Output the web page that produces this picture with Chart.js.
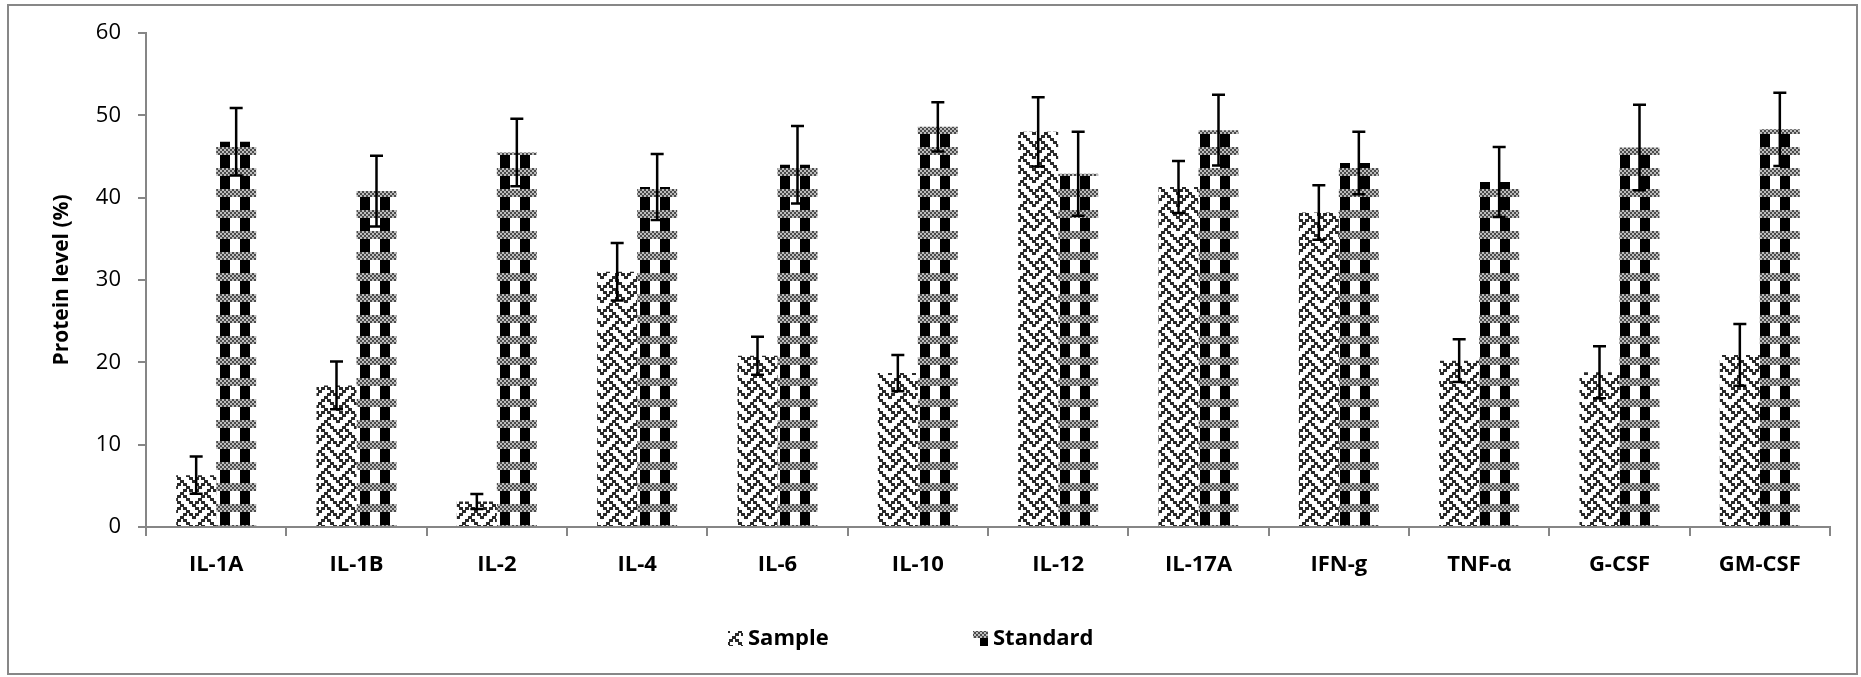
<!DOCTYPE html>
<html>
<head>
<meta charset="utf-8">
<script src="https://cdn.jsdelivr.net/npm/chart.js@4.4.1/dist/chart.umd.min.js"></script>
<style>
  html, body { margin: 0; padding: 0; background: #fff; }
  canvas { display: block; }
</style>
</head>
<body>
<canvas id="proteinChart" width="1861" height="677"></canvas>
<script>
// cytokine panel, protein level (%) with error bars
const cytokines = ['IL-1A', 'IL-1B', 'IL-2', 'IL-4', 'IL-6', 'IL-10', 'IL-12', 'IL-17A', 'IFN-g', 'TNF-\u03b1', 'G-CSF', 'GM-CSF'];
const sampleLevels   = [6.3, 17.2, 3.1, 31.0, 20.8, 18.7, 48.0, 41.3, 38.2, 20.2, 18.8, 20.9];
const sampleErrors   = [2.25, 2.9, 0.9, 3.5, 2.3, 2.2, 4.2, 3.15, 3.3, 2.6, 3.15, 3.75];
const standardLevels = [46.8, 40.8, 45.5, 41.3, 44.0, 48.6, 42.9, 48.2, 44.2, 41.9, 46.1, 48.3];
const standardErrors = [4.1, 4.3, 4.1, 4.0, 4.7, 3.0, 5.1, 4.3, 3.8, 4.25, 5.2, 4.45];
const seriesNames = ['Sample', 'Standard'];
const yTicks = { min: 0, max: 60, step: 10 };

const FONT = '"Open Sans", "Noto Sans", sans-serif';
const AXIS_GREY = '#868686';

// --- fill patterns -------------------------------------------------------
function weavePattern(ctx) {
  const bits = ['X...X...', '.X.X.X..', '..X...X.', '.X...X.X', 'X...X...', '...X.X..', '..X...X.', '.X.X...X'];
  const px = 3;
  const size = 8 * px;
  const c = document.createElement('canvas');
  c.width = size; c.height = size;
  const g = c.getContext('2d');
  g.fillStyle = '#fff';
  g.fillRect(0, 0, size, size);
  g.fillStyle = '#2a2a2a';
  // each cell one pixel wider than the grid so the diagonals join up
  bits.forEach((row, r) => {
    [...row].forEach((ch, col) => {
      if (ch !== 'X') return;
      g.fillRect(col * px, r * px, px + 1, px);
      if (col === 7) g.fillRect(0, r * px, 1, px);
    });
  });
  return ctx.createPattern(c, 'repeat');
}

function plaidPattern(ctx) {
  const c = document.createElement('canvas');
  c.width = 20; c.height = 21;
  const g = c.getContext('2d');
  g.fillStyle = '#fff';
  g.fillRect(0, 0, 20, 21);
  // black vertical stripes
  g.fillStyle = '#000';
  g.fillRect(0, 0, 10, 21);
  // grey dotted band across the stripes
  g.fillStyle = '#bdbdbd';
  g.fillRect(0, 0, 20, 8);
  g.fillStyle = '#4a4a4a';
  for (let y = 0; y < 8; y += 2) {
    for (let x = (y / 2) % 2 ? 2 : 0; x < 20; x += 4) g.fillRect(x, y, 2, 2);
  }
  return ctx.createPattern(c, 'repeat');
}

// --- plugins ---------------------------------------------------------------
const frame = {
  id: 'frame',
  beforeDraw(chart) {
    const { ctx, width, height } = chart;
    ctx.save();
    ctx.fillStyle = '#fff';
    ctx.fillRect(0, 0, width, height);
    ctx.strokeStyle = '#878787';
    ctx.lineWidth = 2;
    ctx.strokeRect(8, 5, width - 12, height - 8);
    ctx.restore();
  }
};

const errorBars = {
  id: 'errorBars',
  afterDatasetsDraw(chart) {
    const { ctx } = chart;
    const y = chart.scales.y;
    const errs = [sampleErrors, standardErrors];
    ctx.save();
    ctx.strokeStyle = '#000';
    ctx.lineWidth = 2.5;
    chart.data.datasets.forEach((ds, i) => {
      chart.getDatasetMeta(i).data.forEach((bar, j) => {
        const v = ds.data[j], e = errs[i][j];
        const top = y.getPixelForValue(v + e);
        const bot = y.getPixelForValue(v - e);
        ctx.beginPath();
        ctx.moveTo(bar.x, top); ctx.lineTo(bar.x, bot);
        ctx.moveTo(bar.x - 6.5, top); ctx.lineTo(bar.x + 6.5, top);
        ctx.moveTo(bar.x - 6.5, bot); ctx.lineTo(bar.x + 6.5, bot);
        ctx.stroke();
      });
    });
    ctx.restore();
  }
};

// legend row under the axis, items spread wide apart
const wideLegend = {
  id: 'wideLegend',
  afterDraw(chart) {
    const { ctx } = chart;
    const items = [{ x: 728 }, { x: 973 }];
    const yMid = 638;
    ctx.save();
    ctx.font = 'bold 22px ' + FONT;
    ctx.textBaseline = 'middle';
    chart.data.datasets.forEach((ds, i) => {
      const x = items[i].x;
      ctx.fillStyle = ds.backgroundColor;
      ctx.fillRect(x, yMid - 7, 15, 15);
      ctx.fillStyle = '#000';
      ctx.fillText(ds.label, x + 20, yMid + 1);
    });
    ctx.restore();
  }
};

// --- chart ------------------------------------------------------------------
const ctx = document.getElementById('proteinChart').getContext('2d');
const chart = new Chart(ctx, {
  type: 'bar',
  data: {
    labels: cytokines,
    datasets: [
      { label: seriesNames[0], data: sampleLevels, backgroundColor: weavePattern(ctx), borderWidth: 0 },
      { label: seriesNames[1], data: standardLevels, backgroundColor: plaidPattern(ctx), borderWidth: 0 }
    ]
  },
  options: {
    responsive: false,
    animation: false,
    devicePixelRatio: 1,
    layout: { padding: { top: 33, right: 31, bottom: 0, left: 0 } },
    datasets: { bar: { categoryPercentage: 0.57, barPercentage: 1.0 } },
    plugins: { legend: { display: false }, tooltip: { enabled: false } },
    scales: {
      x: {
        grid: { drawOnChartArea: false, offset: true, tickLength: 9, color: AXIS_GREY, lineWidth: 2 },
        border: { display: true, color: AXIS_GREY, width: 2 },
        ticks: { color: '#000', padding: 16, font: { family: FONT, size: 22, weight: 'bold' }, maxRotation: 0 },
        afterFit(scale) { scale.height = 150; }
      },
      y: {
        min: yTicks.min,
        max: yTicks.max,
        grid: { drawOnChartArea: false, tickLength: 8, color: AXIS_GREY, lineWidth: 2 },
        border: { display: true, color: AXIS_GREY, width: 2 },
        ticks: { stepSize: yTicks.step, color: '#000', padding: 17, font: { family: FONT, size: 22 } },
        title: {
          display: true,
          text: 'Protein level (%)',
          color: '#000',
          font: { family: FONT, size: 21, weight: 'bold' },
          padding: { top: 49, bottom: 0 }
        },
        afterFit(scale) { scale.width = 146; }
      }
    }
  },
  plugins: [frame, errorBars, wideLegend]
});
</script>
</body>
</html>
